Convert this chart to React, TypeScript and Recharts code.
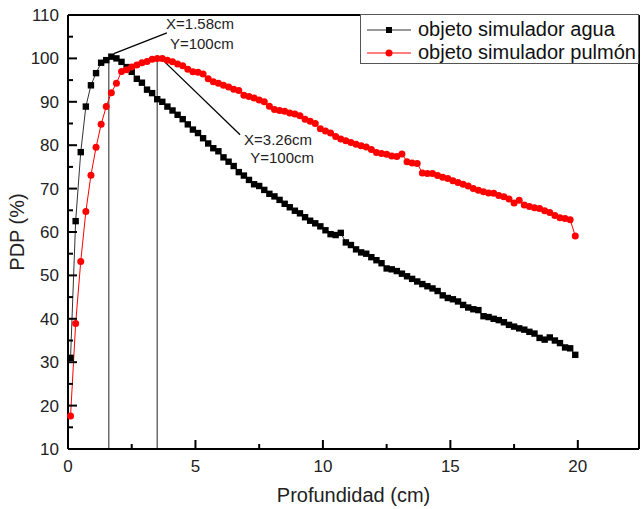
import {
  LineChart,
  Line,
  XAxis,
  YAxis,
  ReferenceLine,
  ReferenceDot,
  Legend,
} from "recharts";

// profundidad (cm)
const depth = [
  0.1, 0.3, 0.5, 0.7, 0.9, 1.1, 1.3, 1.5, 1.7, 1.9,
  2.1, 2.3, 2.5, 2.7, 2.9, 3.1, 3.3, 3.5, 3.7, 3.9,
  4.1, 4.3, 4.5, 4.7, 4.9, 5.1, 5.3, 5.5, 5.7, 5.9,
  6.1, 6.3, 6.5, 6.7, 6.9, 7.1, 7.3, 7.5, 7.7, 7.9,
  8.1, 8.3, 8.5, 8.7, 8.9, 9.1, 9.3, 9.5, 9.7, 9.9,
  10.1, 10.3, 10.5, 10.7, 10.9, 11.1, 11.3, 11.5, 11.7, 11.9,
  12.1, 12.3, 12.5, 12.7, 12.9, 13.1, 13.3, 13.5, 13.7, 13.9,
  14.1, 14.3, 14.5, 14.7, 14.9, 15.1, 15.3, 15.5, 15.7, 15.9,
  16.1, 16.3, 16.5, 16.7, 16.9, 17.1, 17.3, 17.5, 17.7, 17.9,
  18.1, 18.3, 18.5, 18.7, 18.9, 19.1, 19.3, 19.5, 19.7, 19.9,
];

const agua = [
  31.0, 62.5, 78.4, 88.9, 93.8, 96.6, 99.0, 99.6, 100.4, 100.0,
  99.2, 98.0, 96.9, 95.3, 94.4, 92.8, 92.0, 90.6, 90.0, 88.9,
  88.0, 87.0, 86.0, 84.8, 83.6, 82.8, 81.6, 80.4, 79.3, 78.6,
  77.2, 76.2, 75.2, 73.8, 73.0, 72.0, 71.0, 70.6, 69.7, 68.8,
  68.2, 67.4, 66.5, 65.7, 64.9, 64.3, 63.4, 62.6, 62.0, 61.3,
  60.4, 59.5, 59.3, 59.8, 57.6, 57.0, 56.0, 55.3, 55.0, 54.2,
  53.5, 52.8, 51.6, 51.4, 51.0, 50.4, 49.8, 49.2, 48.6, 48.0,
  47.5, 47.0, 46.4, 45.4, 44.8, 44.5, 44.0, 43.2, 42.6, 42.2,
  42.0, 40.6, 40.4, 40.0, 39.7, 39.2, 38.6, 38.2, 37.8, 37.5,
  37.0, 36.6, 35.6, 35.2, 35.7, 35.0, 34.4, 33.4, 33.2, 31.7,
];

const pulmon = [
  17.6, 38.9, 53.2, 64.7, 73.1, 79.5, 84.8, 88.9, 92.1, 94.3,
  97.0, 97.4, 98.0, 98.5, 99.0, 99.3, 99.8, 100.0, 100.0, 99.6,
  99.2, 98.7, 98.3, 97.5, 96.9, 96.8, 96.4, 95.3, 94.6, 94.3,
  93.8, 93.4, 92.9, 92.6, 91.5, 91.2, 90.9, 90.4, 90.0, 89.0,
  88.2, 88.0, 87.8, 87.4, 87.2, 86.8, 86.0, 85.5, 85.0, 83.8,
  83.3, 82.8, 82.0, 81.4, 81.0, 80.6, 80.2, 79.9, 79.6, 79.0,
  78.3, 78.1, 77.9, 77.5, 77.4, 78.0, 76.2, 75.9, 75.8, 73.6,
  73.5, 73.5, 73.0, 72.6, 72.3, 71.8, 71.4, 71.0, 70.6, 70.0,
  69.6, 69.3, 69.0, 68.9, 68.4, 68.1, 67.6, 66.7, 67.3, 66.2,
  65.9, 65.6, 65.4, 64.9, 64.5, 63.8, 63.3, 63.1, 62.8, 59.1,
];

const xTicks = [0, 2.5, 5, 7.5, 10, 12.5, 15, 17.5, 20];
const yTicks = [10, 15, 20, 25, 30, 35, 40, 45, 50, 55, 60, 65, 70, 75, 80, 85, 90, 95, 100, 105, 110];

const seriesNames = ["objeto simulador agua", "objeto simulador pulmón"];

const data = depth.map((x, i) => ({ x, agua: agua[i], pulmon: pulmon[i] }));

const FONT = "'Liberation Sans', Arial, sans-serif";

const renderXTick = (props: any) => {
  const { x, y, payload, index } = props;
  const v = payload.value;
  const major = v % 5 === 0;
  return (
    <g key={"xt" + index}>
      <line x1={x} x2={x} y1={y} y2={y - (major ? 9 : 5)} stroke="#000" strokeWidth={2} />
      {major && (
        <text x={x} y={y + 23} textAnchor="middle" fontSize={17} fontFamily={FONT} fill="#222">
          {v}
        </text>
      )}
    </g>
  );
};

const renderYTick = (props: any) => {
  const { x, y, payload, index } = props;
  const v = payload.value;
  const major = v % 10 === 0;
  return (
    <g key={"yt" + index}>
      <line x1={x} x2={x + (major ? 9 : 5)} y1={y} y2={y} stroke="#000" strokeWidth={2} />
      {major && (
        <text x={x - 9} y={y + 6} textAnchor="end" fontSize={17} fontFamily={FONT} fill="#222">
          {v}
        </text>
      )}
    </g>
  );
};

const Square = (props: any) => {
  const { cx, cy, index } = props;
  return <rect key={"sq" + index} x={cx - 3.2} y={cy - 3.2} width={6.4} height={6.4} fill="#000" />;
};

const LegendBox = () => (
  <div
    style={{
      border: "1px solid #555",
      background: "#fff",
      width: 279,
      height: 50,
      boxSizing: "border-box",
      fontFamily: FONT,
      fontSize: 20,
      color: "#111",
      paddingTop: 3,
    }}
  >
    {seriesNames.map((name, i) => (
      <div key={name} style={{ display: "flex", alignItems: "center", height: 23 }}>
        <svg width={56} height={20} style={{ flex: "none" }}>
          <line x1={6} x2={50} y1={10} y2={10} stroke={i === 0 ? "#333" : "#ff0000"} strokeWidth={1} />
          {i === 0 ? (
            <rect x={25} y={7} width={6} height={6} fill="#000" />
          ) : (
            <circle cx={28} cy={10} r={3.5} fill="#ff0000" />
          )}
        </svg>
        <span style={{ marginLeft: 1, whiteSpace: "nowrap" }}>{name}</span>
      </div>
    ))}
  </div>
);

export default function App() {
  return (
    <div style={{ position: "absolute", left: 0, top: 0, background: "#fff" }}>
      <LineChart
        width={641}
        height={509}
        data={data}
        margin={{ top: 15, right: 2, left: 0, bottom: 0 }}
        style={{ fontFamily: FONT }}
      >
        <XAxis
          dataKey="x"
          type="number"
          domain={[0, 22.4]}
          ticks={xTicks}
          interval={0}
          height={60}
          tickSize={0}
          tickMargin={0}
          tickLine={false}
          tick={renderXTick}
          axisLine={{ stroke: "#000", strokeWidth: 2 }}
          label={{ value: "Profundidad (cm)", position: "insideBottom", offset: 7, fontSize: 20, fill: "#222", fontFamily: FONT }}
        />
        <YAxis
          type="number"
          domain={[10, 110]}
          ticks={yTicks}
          interval={0}
          width={68}
          tickSize={0}
          tickMargin={0}
          tickLine={false}
          tick={renderYTick}
          axisLine={{ stroke: "#000", strokeWidth: 2 }}
          label={{
            content: (p: any) => {
              const vb = p.viewBox;
              const cx = vb.x + 17;
              const cy = vb.y + vb.height / 2;
              return (
                <text
                  x={cx}
                  y={cy}
                  dy="0.35em"
                  textAnchor="middle"
                  transform={`rotate(-90 ${cx} ${cy})`}
                  fontSize={20}
                  fill="#222"
                  fontFamily={FONT}
                >
                  PDP (%)
                </text>
              );
            },
          }}
        />
        <ReferenceLine y={110} stroke="#000" strokeWidth={2} />
        <ReferenceLine x={22.4} stroke="#000" strokeWidth={2} />
        <ReferenceLine segment={[{ x: 1.6, y: 10 }, { x: 1.6, y: 100 }]} stroke="#555" strokeWidth={1.3} />
        <ReferenceLine segment={[{ x: 3.5, y: 10 }, { x: 3.5, y: 100 }]} stroke="#555" strokeWidth={1.3} />
        <ReferenceLine segment={[{ x: 1.8, y: 101.1 }, { x: 3.88, y: 105.9 }]} stroke="#000" strokeWidth={1.3} />
        <ReferenceLine segment={[{ x: 3.6, y: 100.3 }, { x: 6.75, y: 82.4 }]} stroke="#000" strokeWidth={1.3} />
        <Line
          type="linear"
          dataKey="agua"
          name={seriesNames[0]}
          stroke="#333"
          strokeWidth={1}
          dot={<Square />}
          isAnimationActive={false}
        />
        <Line
          type="linear"
          dataKey="pulmon"
          name={seriesNames[1]}
          stroke="#ff0000"
          strokeWidth={1}
          dot={{ r: 3.5, fill: "#ff0000", stroke: "none" }}
          isAnimationActive={false}
        />
        <ReferenceDot x={5.18} y={107.9} r={0} stroke="none" label={{ value: "X=1.58cm", position: "center", fontSize: 15, fill: "#222", fontFamily: FONT }} />
        <ReferenceDot x={5.25} y={103.4} r={0} stroke="none" label={{ value: "Y=100cm", position: "center", fontSize: 15, fill: "#222", fontFamily: FONT }} />
        <ReferenceDot x={8.24} y={81.3} r={0} stroke="none" label={{ value: "X=3.26cm", position: "center", fontSize: 15, fill: "#222", fontFamily: FONT }} />
        <ReferenceDot x={8.4} y={77.1} r={0} stroke="none" label={{ value: "Y=100cm", position: "center", fontSize: 15, fill: "#222", fontFamily: FONT }} />
        <Legend
          layout="horizontal"
          verticalAlign="middle"
          align="center"
          content={<LegendBox />}
          wrapperStyle={{ top: 14, left: 360, width: 279 }}
        />
      </LineChart>
    </div>
  );
}
